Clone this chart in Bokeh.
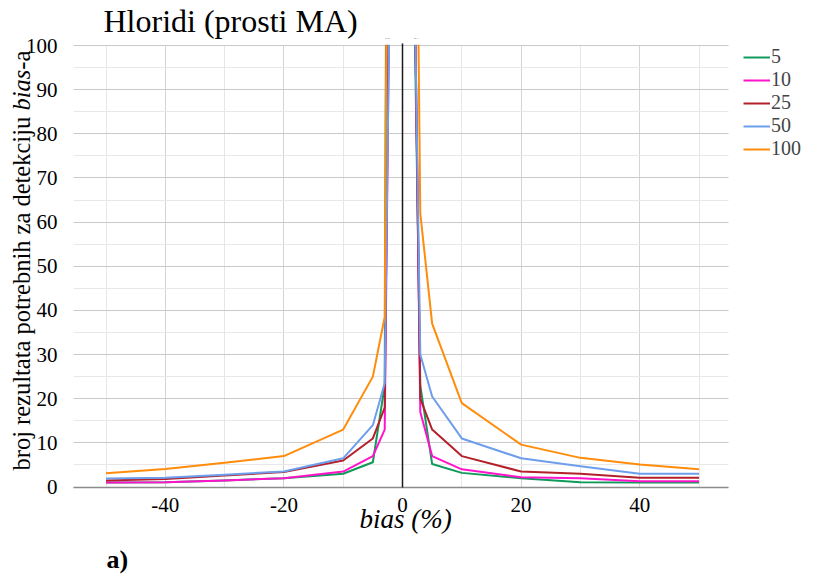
from bokeh.plotting import figure
from bokeh.models import Range1d, FixedTicker, Label, Legend, LegendItem, LinearAxis
from bokeh.embed import file_html
from bokeh.resources import INLINE

# ---- data ----
bias = [-50, -40, -30, -20, -10, -5, -3, -2, 2, 3, 5, 10, 20, 30, 40, 50]
n5 = [1.0, 1.1, 1.5, 2.0, 3.0, 5.6, 23, 400, 110, 23, 5.2, 3.2, 2.0, 1.1, 1.0, 1.0]
n10 = [1.0, 1.1, 1.5, 2.0, 3.5, 7.0, 13, 140, 120, 17, 7.0, 4.0, 2.2, 2.0, 1.3, 1.3]
n25 = [1.5, 1.8, 2.6, 3.4, 6.0, 11, 18, 150, 120, 20, 13, 7.0, 3.5, 3.0, 2.1, 2.1]
n50 = [1.9, 2.1, 2.8, 3.5, 6.5, 14, 23.5, 130, 117, 30, 20.5, 11, 6.5, 4.7, 3.0, 3.0]
n100 = [3.1, 4.1, 5.5, 7.0, 13, 25, 38.5, 280, 190, 62, 37, 19, 9.6, 6.6, 5.1, 4.0]

series_names = ["5", "10", "25", "50", "100"]
series_values = [n5, n10, n25, n50, n100]
series_colors = ["#109a5a", "#ff14cc", "#b3202a", "#6d9eeb", "#ff8c0a"]

x_major = [-40, -20, 0, 20, 40]
x_major_labels = ["-40", "-20", "0", "20", "40"]
x_minor = [-50, -30, -10, 10, 30, 50]
y_major = list(range(0, 101, 10))
y_minor = list(range(5, 100, 10))

title_text = "Hloridi (prosti MA)"
ylab_parts = ["broj rezultata potrebnih za detekciju ", "bias", "-a"]
xlab_text = "bias (%)"
panel_tag = "a)"

SERIF = "Liberation Serif"
W, H = 816, 579
FTOP = 38  # frame top (canvas row); title sits in the band above it

# data window inside the frame
X_LO, X_HI = -55.5, 55.0
Y_LO, Y_HI = 0, 100
x_range = Range1d(-402 / 5.93, (W - 402) / 5.93)
y_range = Range1d(-(H - 486.5) / 4.415, (486.5 - FTOP) / 4.415)

p = figure(width=W, height=H, x_range=x_range, y_range=y_range,
           output_backend="svg", toolbar_location=None, tools="",
           min_border=0, min_border_left=0, min_border_right=0,
           min_border_top=FTOP, min_border_bottom=0)
p.outline_line_color = None
p.background_fill_color = "white"
p.border_fill_color = "white"

# title in the band above the frame
p.title.text = title_text
p.title.align = "left"
p.title.offset = 103
p.title.standoff = 0
p.title.vertical_align = "bottom"
p.title.text_font = SERIF
p.title.text_font_size = "32px"
p.title.text_font_style = "normal"
p.title.text_color = "black"

# ---- axes (fixed inside the frame) ----
xax = p.xaxis[0]
yax = p.yaxis[0]
xax.fixed_location = Y_LO
xax.bounds = (X_LO, X_HI)
xax.ticker = FixedTicker(ticks=x_major, minor_ticks=x_minor)
xax.major_label_overrides = {t: s for t, s in zip(x_major, x_major_labels)}
yax.fixed_location = X_LO
yax.bounds = (Y_LO, Y_HI)
yax.ticker = FixedTicker(ticks=y_major, minor_ticks=y_minor)
for ax in (xax, yax):
    ax.major_tick_line_color = None
    ax.minor_tick_line_color = None
    ax.major_label_text_font = SERIF
    ax.major_label_text_font_size = "21px"
    ax.major_label_text_color = "black"
yax.axis_line_color = None
yax.major_label_standoff = 10
xax.axis_line_color = "#8c8c8c"
xax.axis_line_width = 1.5
xax.major_label_standoff = 5

# grids limited to the data window
p.ygrid.grid_line_color = "#c9c9c9"
p.ygrid.minor_grid_line_color = "#e8e8e8"
p.ygrid.cross_bounds = (X_LO, X_HI)
p.xgrid.grid_line_color = "#d4d4d4"
p.xgrid.minor_grid_line_color = "#e6e6e6"
p.xgrid.cross_bounds = (Y_LO, Y_HI)

# ---- data lines ----
renderers = []
for name, vals, col in zip(series_names, series_values, series_colors):
    r = p.line(bias, vals, line_color=col, line_width=2, line_join="round")
    renderers.append((name, r))

# white mask hiding the short parts of the lines above the y = 100 window edge
p.quad(left=[-8], right=[8], bottom=[Y_HI + 0.15], top=[Y_HI + 300],
       fill_color="white", fill_alpha=1, line_color=None)

# zero line (black vertical axis through 0)
zero_ax = LinearAxis(fixed_location=0, bounds=(Y_LO, Y_HI + 0.5),
                     ticker=FixedTicker(ticks=[]), axis_line_color="#1a1a1a",
                     axis_line_width=1.5, major_tick_line_color=None,
                     minor_tick_line_color=None, major_label_text_alpha=0)
p.add_layout(zero_ax, "left")

# ---- legend ----
legend = Legend(items=[LegendItem(label=n, renderers=[r]) for n, r in renderers],
                location=(743, 419), orientation="vertical",
                glyph_width=27, glyph_height=20, label_height=20, spacing=0,
                padding=0, margin=0, label_standoff=1,
                border_line_color=None, background_fill_alpha=0,
                label_text_font=SERIF, label_text_font_size="20px",
                label_text_baseline="alphabetic")
p.add_layout(legend)

# ---- texts ----
fs = 24.5
widths = [14.691 * fs, 1.667 * fs, 0.777 * fs]
styles = ["normal", "italic", "normal"]
ypos = H - 470
for part, w, st in zip(ylab_parts, widths, styles):
    p.add_layout(Label(x=21, y=ypos, x_units="screen", y_units="screen", text=part,
                       angle=90, angle_units="deg", text_font=SERIF,
                       text_font_size=f"{fs}px", text_font_style=st,
                       text_baseline="alphabetic", text_align="left", text_color="black"))
    ypos += w

p.add_layout(Label(x=405, y=H - 518, x_units="screen", y_units="screen", text=xlab_text,
                   text_font=SERIF, text_font_size="27px", text_font_style="italic",
                   text_baseline="alphabetic", text_align="center", text_color="black"))

p.add_layout(Label(x=106, y=H - 559, x_units="screen", y_units="screen", text=panel_tag,
                   text_font=SERIF, text_font_size="26px", text_font_style="bold",
                   text_baseline="alphabetic", text_align="left", text_color="black"))

open("out.html", "w").write(file_html(p, INLINE))
